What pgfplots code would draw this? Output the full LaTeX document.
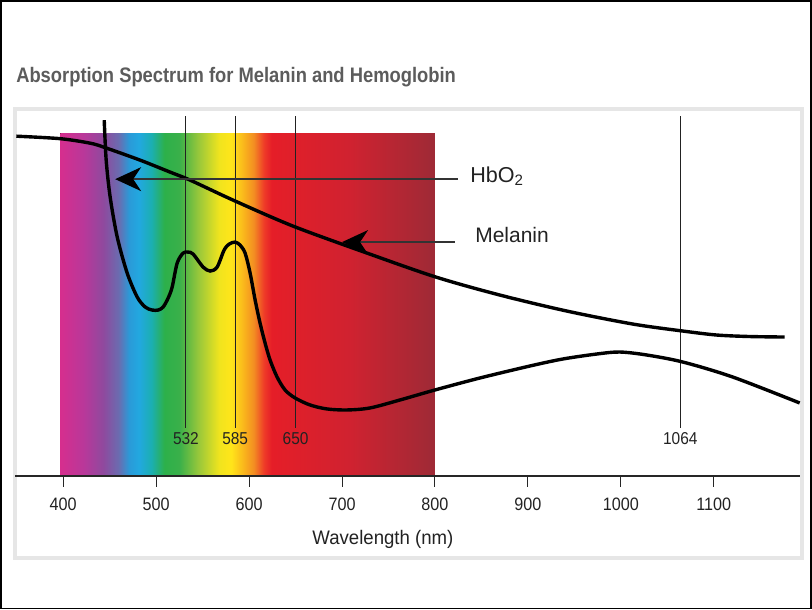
\documentclass[border=0pt]{standalone}
\usepackage{pgfplots}
\pgfplotsset{compat=1.18}
\usepackage{fontspec}
\setmainfont{Liberation Sans}
\newfontfamily\titlefont[FakeStretch=0.875]{Liberation Sans}
\newfontfamily\condfont[FakeStretch=0.9]{Liberation Sans}
\newfontfamily\labfont[FakeStretch=0.95]{Liberation Sans}
\usetikzlibrary{arrows.meta}

\definecolor{s400}{HTML}{D62E8E}
\definecolor{s424}{HTML}{B8389A}
\definecolor{s445}{HTML}{8E4A9E}
\definecolor{s461}{HTML}{6A6CB0}
\definecolor{s472}{HTML}{2A9AD8}
\definecolor{s483}{HTML}{22A8E0}
\definecolor{s496}{HTML}{1BAFB0}
\definecolor{s510}{HTML}{2DB04A}
\definecolor{s526}{HTML}{3AB04A}
\definecolor{s547}{HTML}{9AC83A}
\definecolor{s569}{HTML}{F0E41E}
\definecolor{s582}{HTML}{FFE51A}
\definecolor{s596}{HTML}{F9B21C}
\definecolor{s606}{HTML}{F38E22}
\definecolor{s617}{HTML}{EE3A28}
\definecolor{s625}{HTML}{E51E28}
\definecolor{s709}{HTML}{D02230}
\definecolor{s800}{HTML}{9E2A36}
\definecolor{titlegray}{HTML}{5C5C5C}
\definecolor{framegray}{HTML}{E6E6E6}
\definecolor{txt}{HTML}{222222}

% spectrum spans 396.8..800 nm -> 25bp..75bp
\pgfdeclarehorizontalshading{spectrum}{100bp}{%
color(0bp)=(s400); color(25bp)=(s400); color(28.2bp)=(s424); color(30.8bp)=(s445);
color(32.8bp)=(s461); color(34.2bp)=(s472); color(35.5bp)=(s483); color(37.2bp)=(s496);
color(38.9bp)=(s510); color(40.9bp)=(s526); color(43.5bp)=(s547); color(46.2bp)=(s569);
color(47.8bp)=(s582); color(49.6bp)=(s596); color(50.8bp)=(s606); color(52.2bp)=(s617);
color(53.2bp)=(s625); color(63.6bp)=(s709); color(75bp)=(s800); color(100bp)=(s800)}

\begin{document}
\begin{tikzpicture}
\begin{axis}[
  x=0.465pt, y=0.5pt, scale only axis,
  xmin=348.4, xmax=1192.5, ymin=0, ymax=368,
  axis x line=bottom, axis y line=none,
  x axis line style={-, line width=0.6pt, black!85},
  xtick={400,500,...,1100}, ytick=\empty,
  tick align=outside, major tick length=5.5pt,
  tick style={black!85, line width=0.5pt},
  /pgf/number format/1000 sep={},
  /pgf/number format/assume math mode=true,
  xticklabel style={font=\condfont\fontsize{9}{10}\selectfont, text=txt, yshift=-2pt},
  xlabel={Wavelength (nm)},
  xlabel style={font=\labfont\fontsize{9.8}{11}\selectfont, text=txt, at={(axis cs:744,-69)}, anchor=base},
  clip=false, axis on top=true,
]
% outer frame and inner panel
\draw[black, line width=0.8pt] (axis cs:332.8,475.5) rectangle (axis cs:1204.9,-132.5);
\draw[framegray, line width=2pt] (axis cs:347.6,367) rectangle (axis cs:1195.2,-82.5);
% title
\node[anchor=base west, inner sep=0pt, text=titlegray, font=\titlefont\bfseries\fontsize{10.5}{12}\selectfont]
  at (axis cs:349,394) {Absorption Spectrum for Melanin and Hemoglobin};
% spectrum
\fill[shading=spectrum] (axis cs:396.8,0) rectangle (axis cs:800,343);
% wavelength lines
\addplot[txt, line width=0.5pt] coordinates {(532,48) (532,360)};
\addplot[txt, line width=0.5pt] coordinates {(585,48) (585,360)};
\addplot[txt, line width=0.5pt] coordinates {(650,48) (650,360)};
\addplot[txt, line width=0.5pt] coordinates {(1064,48) (1064,360)};
\foreach \w in {532,585,650,1064}{
  \edef\tmp{\noexpand\node[anchor=center, inner sep=0pt, text=txt, font=\noexpand\condfont\noexpand\fontsize{8.6}{10}\noexpand\selectfont] at (axis cs:\w,37) {\w};}
  \tmp
}
% melanin
\addplot[black, line width=1.7pt, smooth, tension=0.5] coordinates {
(349.5,340) (396.8,337.5) (429.0,333) (445.2,328.5) (482.8,316) (515.1,304)
(536.6,296) (582.8,276) (647.3,250) (726.9,223) (801.1,199) (869.9,181)
(941.9,165) (1012.9,152) (1066.7,145) (1103.2,141) (1138.7,139.5) (1176.3,139)};
% HbO2
\addplot[black, line width=1.7pt, smooth, tension=0.5] coordinates {
(444.1,356) (446.2,316) (450.5,279) (458.1,239) (468.8,203) (479.6,179)
(488.2,169) (495.7,166) (502.2,166) (507.5,169) (512.9,178) (517.2,189)
(522.6,213) (529.0,223) (534.4,224) (539.8,222) (550.5,209) (558.1,205)
(565.6,209) (573.1,226) (578.5,232) (584.9,234) (590.3,231) (595.7,223)
(601.1,203) (606.5,176) (611.8,153) (617.2,133) (622.6,116) (630.1,99)
(638.7,86) (649.5,78) (665.6,71) (683.9,67) (705.4,66) (730.1,68)
(762.4,76) (800.0,86) (848.4,98) (902.2,110) (937.6,117) (974.2,122)
(998.9,124) (1028.0,121) (1066.7,114) (1120.4,99) (1192.5,73)};
% arrows and labels
\draw[black!80, line width=0.7pt, {Stealth[length=13pt, width=12pt, inset=4pt, black]}-]
  (axis cs:455.9,297) -- (axis cs:824.7,297);
\draw[black!80, line width=0.7pt, {Stealth[length=13pt, width=12pt, inset=4pt, black]}-]
  (axis cs:700,234) -- (axis cs:821.5,234);
\node[anchor=base west, inner sep=0pt, text=txt, font=\fontsize{10.8}{12}\selectfont]
  at (axis cs:837.6,294) {HbO\textsubscript{2}};
\node[anchor=base west, inner sep=0pt, text=txt, font=\fontsize{10.5}{12}\selectfont]
  at (axis cs:843,234) {Melanin};
\end{axis}
\end{tikzpicture}
\end{document}
